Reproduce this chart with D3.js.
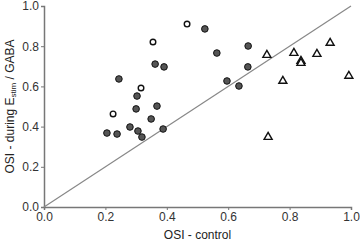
<!DOCTYPE html>
<html>
<head>
<meta charset="utf-8">
<script src="https://cdn.jsdelivr.net/npm/d3@7"></script>
<style>
  body { margin: 0; background: #fff; }
  svg { display: block; font-family: "Liberation Sans", Arial, sans-serif; }
</style>
</head>
<body>
<script>
// scatter: OSI control vs OSI during Estim/GABA

const width = 360;
const height = 241;
const margin = {top: 6, left: 44, bottom: 34, right: 9};

// filled circles
const filledX = [0.244, 0.303, 0.300, 0.368, 0.349, 0.205, 0.238, 0.280, 0.306, 0.319,
                 0.388, 0.362, 0.391, 0.524, 0.563, 0.665, 0.664, 0.596, 0.635];
const filledY = [0.637, 0.552, 0.488, 0.502, 0.438, 0.368, 0.363, 0.398, 0.378, 0.348,
                 0.388, 0.711, 0.697, 0.886, 0.766, 0.801, 0.697, 0.627, 0.602];

// open circles
const openX = [0.466, 0.355, 0.316, 0.225];
const openY = [0.910, 0.821, 0.592, 0.463];

// open triangles
const triX = [0.726, 0.814, 0.932, 0.889, 0.837, 0.837, 0.778, 0.993, 0.730];
const triY = [0.756, 0.766, 0.816, 0.761, 0.726, 0.716, 0.627, 0.652, 0.348];

const ticks = [0, 0.2, 0.4, 0.6, 0.8, 1.0];

const x = d3.scaleLinear()
    .domain([0, 1])
    .range([margin.left, width - margin.right]);

const y = d3.scaleLinear()
    .domain([0, 1])
    .range([height - margin.bottom, margin.top]);

const svg = d3.select('body').append('svg')
    .attr('width', width)
    .attr('height', height);

const xAxis = g => g
    .attr('transform', `translate(0, ${y(0)})`)
    .call(d3.axisBottom(x).tickValues(ticks).tickFormat(d3.format('.1f')).tickSizeOuter(0).tickSize(3))
    .call(g => g.select('.domain').attr('stroke', '#777').attr('stroke-width', 1.5))
    .call(g => g.selectAll('.tick line').attr('stroke', '#777'))
    .call(g => g.selectAll('.tick text').attr('fill', '#333').attr('font-size', 12).attr('dy', '0.78em').attr('y', 5));

const yAxis = g => g
    .attr('transform', `translate(${x(0)}, 0)`)
    .call(d3.axisLeft(y).tickValues(ticks).tickFormat(d3.format('.1f')).tickSizeOuter(0).tickSize(3))
    .call(g => g.select('.domain').attr('stroke', '#777').attr('stroke-width', 1.5))
    .call(g => g.selectAll('.tick line').attr('stroke', '#777'))
    .call(g => g.selectAll('.tick text').attr('fill', '#333').attr('font-size', 12).attr('x', -5));

svg.append('g').call(xAxis);
svg.append('g').call(yAxis);

// unity line
svg.append('line')
    .attr('x1', x(0)).attr('y1', y(0))
    .attr('x2', x(1)).attr('y2', y(1))
    .attr('stroke', '#888')
    .attr('stroke-width', 1.2);

const filled = filledX.map((d, i) => ({x: d, y: filledY[i]}));
const open = openX.map((d, i) => ({x: d, y: openY[i]}));
const tri = triX.map((d, i) => ({x: d, y: triY[i]}));

svg.append('g')
    .selectAll('circle').data(filled).enter().append('circle')
    .attr('cx', d => x(d.x))
    .attr('cy', d => y(d.y))
    .attr('r', 3.3)
    .attr('fill', '#555')
    .attr('stroke', '#111')
    .attr('stroke-width', 1);

svg.append('g')
    .selectAll('circle').data(open).enter().append('circle')
    .attr('cx', d => x(d.x))
    .attr('cy', d => y(d.y))
    .attr('r', 2.8)
    .attr('fill', '#fff')
    .attr('stroke', '#111')
    .attr('stroke-width', 1.4);

const triangle = d3.symbol().type(d3.symbolTriangle).size(28);
svg.append('g')
    .selectAll('path').data(tri).enter().append('path')
    .attr('transform', d => `translate(${x(d.x)}, ${y(d.y)})`)
    .attr('d', triangle)
    .attr('fill', '#fff')
    .attr('stroke', '#111')
    .attr('stroke-width', 1.4);

// axis titles
svg.append('text')
    .attr('x', (x(0) + x(1)) / 2)
    .attr('y', 236)
    .attr('text-anchor', 'middle')
    .attr('dominant-baseline', 'middle')
    .attr('font-size', 12)
    .attr('fill', '#222')
    .text('OSI - control');

const yTitle = svg.append('text')
    .attr('transform', `translate(11, ${(y(0) + y(1)) / 2}) rotate(-90)`)
    .attr('text-anchor', 'middle')
    .attr('dominant-baseline', 'middle')
    .attr('font-size', 12)
    .attr('fill', '#222');
yTitle.append('tspan').text('OSI - during E');
yTitle.append('tspan').attr('font-size', 8).attr('dy', 3).text('stim');
yTitle.append('tspan').attr('dy', -3).text(' / GABA');
</script>
</body>
</html>
